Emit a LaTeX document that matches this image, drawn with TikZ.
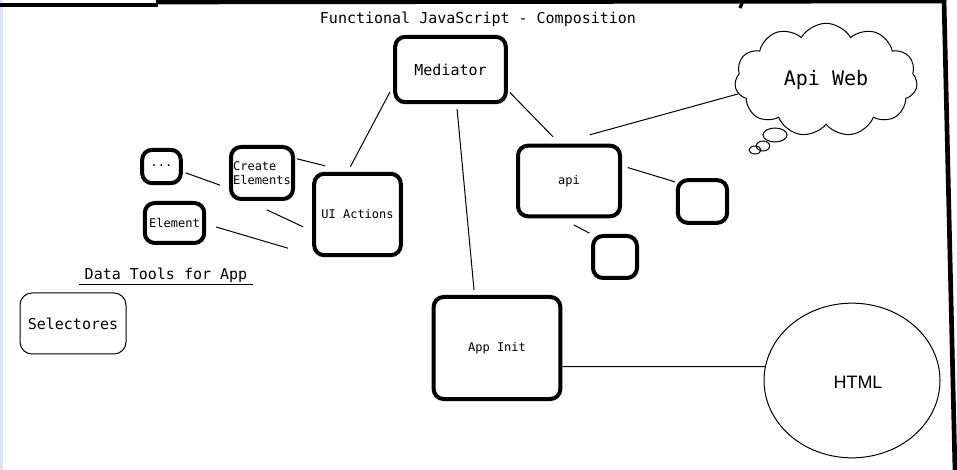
\documentclass[tikz,border=0pt]{standalone}
\usepackage{fontspec}
\usepackage{xcolor}
\usepackage{tikz}
\usetikzlibrary{shapes.geometric,shapes.symbols,positioning}

\newfontfamily\monofont{DejaVu Sans Mono}
\newfontfamily\htmlfont{Liberation Sans}
\definecolor{stripblue}{RGB}{220,228,245}

\tikzset{
    bigtext/.style={font=\monofont\fontsize{11.25}{13}\selectfont},
    smalltext/.style={font=\monofont\fontsize{9}{10.5}\selectfont},
    thickbox/.style={draw, line width=3pt, rounded corners=7.5pt, smalltext},
    thinbox/.style={draw, line width=0.75pt, rounded corners=9pt, bigtext},
    link/.style={line width=0.75pt},
    frame/.style={line width=3.5pt}
}

\begin{document}
\begin{tikzpicture}[x=0.75pt,y=-0.75pt]
    \useasboundingbox (0,0) rectangle (957,470);
    \fill[stripblue] (0,0) rectangle (3,470);

    % Frame
    \draw[frame] (0,5) -- (158,5);
    \draw[frame] (156,2) -- (946,1);
    \draw[frame] (944,0) -- (955,470);
    \draw[line width=2.5pt] (743,1) -- (740,8);

    % Title
    \node[bigtext] (title) at (478,19) {Functional JavaScript - Composition};

    % Boxes
    \node[thickbox, bigtext, minimum width=83pt, minimum height=49pt] (med) at (450.5,69.5) {Mediator};
    \node[thickbox, minimum width=65pt, minimum height=61pt] (ui) at (357.5,214.5) {UI Actions};
    \node[thickbox, align=left, inner sep=1pt, minimum width=46.5pt, minimum height=39pt] (ce) at (262,173) {Create\\Elements};
    \node[thickbox, minimum width=29pt, minimum height=25pt] (dots) at (161.5,166.5) {\raisebox{2pt}{...}};
    \node[thickbox, minimum width=43pt, minimum height=30pt] (el) at (174.5,223) {Element};
    \node[thickbox, minimum width=76.5pt, minimum height=53pt] (api) at (569,181) {api};
    \node[thickbox, minimum width=37pt, minimum height=32pt] (b1) at (702.5,201.5) {};
    \node[thickbox, minimum width=33pt, minimum height=31.5pt] (b2) at (615,257) {};
    \node[thickbox, minimum width=95pt, minimum height=76.5pt] (init) at (497,348) {App Init};

    % Data tools
    \node[bigtext, inner xsep=3.75pt, inner ysep=1.5pt] (tools) at (166,275) {Data Tools for App};
    \draw[link] (tools.south west) -- (tools.south east);
    \node[thinbox, minimum width=79.5pt, minimum height=45.75pt] (sel) at (73,323.5) {Selectores};

    % Api Web and HTML
    \node[draw, cloud, cloud puffs=11, cloud puff arc=120, cloud ignores aspect, inner sep=0pt, line width=0.75pt,
          minimum width=137pt, minimum height=85pt,
          font=\monofont\fontsize{15}{17}\selectfont] (web) at (826,80) {\raisebox{3pt}{Api Web}};
    \draw[line width=0.75pt] (775,135) ellipse [x radius=9pt, y radius=5.25pt];
    \draw[line width=0.75pt] (763,146) ellipse [x radius=5pt, y radius=3.75pt];
    \draw[line width=0.75pt] (755,150) ellipse [x radius=4.5pt, y radius=3pt];
    \node[draw, ellipse, line width=0.75pt, minimum width=132pt, minimum height=116pt,
          font=\htmlfont\fontsize{13.5}{15}\selectfont] (html) at (852,380.5) {\hspace{9pt}\raisebox{-12pt}{HTML}};

    % Connectors
    \draw[link, shorten <=5pt, shorten >=4.4pt] (med.196) -- (ui.103);
    \draw[link, shorten <=2.2pt, shorten >=7.2pt] (med.-20) -- (api.104);
    \draw[link, shorten <=3.75pt, shorten >=3.75pt] (med.-80) -- (init.113);
    \draw[link, shorten <=2.2pt, shorten >=7.2pt] (dots.-14) -- (ce.205);
    \draw[link, shorten <=1.5pt, shorten >=18.5pt] (ce.24) -- (ui.101);
    \draw[link, shorten <=15.7pt, shorten >=7.5pt] (ce.243) -- (ui.200);
    \draw[link, shorten <=7.8pt, shorten >=18.8pt] (el.-2) -- (ui.222);
    \draw[link, shorten <=25pt] (api.107) -- (web.189);
    \draw[link, shorten <=4.5pt, shorten >=0.75pt] (api.16) -- (b1.144);
    \draw[link, shorten <=10.7pt, shorten >=1.5pt] (api.-102) -- (b2.136);
    \draw[link] (init.-16) -- (html.171);
\end{tikzpicture}
\end{document}
